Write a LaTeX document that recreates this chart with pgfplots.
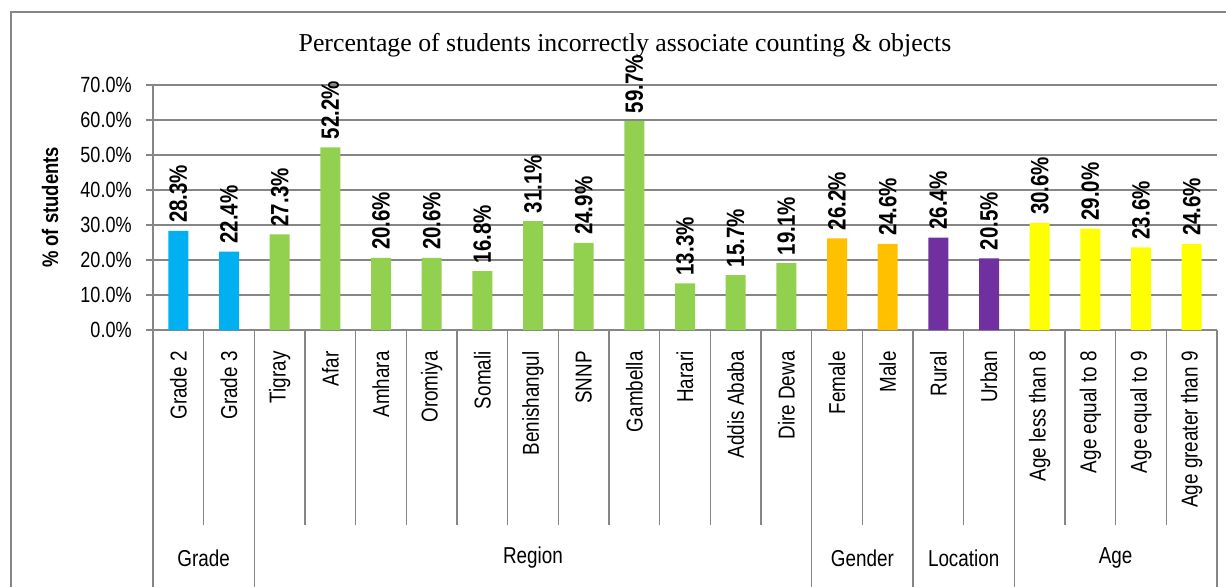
\documentclass[border=0pt]{standalone}
\usepackage{pgfplots}
\pgfplotsset{compat=1.18}
\usepackage{fontspec}
\setmainfont{Liberation Sans}[FakeStretch=0.82]
\newfontfamily\titlefont{Liberation Serif}
\definecolor{cblue}{HTML}{00B0F0}
\definecolor{cgreen}{HTML}{92D050}
\definecolor{corange}{HTML}{FFC000}
\definecolor{cpurple}{HTML}{7030A0}
\definecolor{cyellow}{HTML}{FFFF00}
\definecolor{gridc}{RGB}{134,134,134}
\begin{document}
\begin{tikzpicture}
\path[use as bounding box] (-76.5pt,-128pt) rectangle (536.5pt,165pt);
\draw[gridc, line width=0.6pt] (-71pt,-131pt) -- (-71pt,159pt) -- (540pt,159pt);
\begin{axis}[
  at={(0,0)}, anchor=south west,
  scale only axis, width=532pt, height=122.5pt,
  xmin=-0.5, xmax=20.5, ymin=0, ymax=70,
  axis lines*=left,
  axis line style={gridc, line width=0.7pt},
  ybar, bar width=10pt,
  ytick={0,10,...,70},
  yticklabels={0.0\%,10.0\%,20.0\%,30.0\%,40.0\%,50.0\%,60.0\%,70.0\%},
  ymajorgrids, grid style={gridc, line width=0.6pt},
  tick align=outside, major tick length=3.5pt,
  y tick style={gridc, line width=0.6pt},
  xtick={0,...,20},
  xticklabels={Grade 2,Grade 3,Tigray,Afar,Amhara,Oromiya,Somali,Benishangul,SNNP,Gambella,Harari,Addis Ababa,Dire Dewa,Female,Male,Rural,Urban,Age less than 8,Age equal to 8,Age equal to 9,Age greater than 9},
  x tick style={draw=none},
  xticklabel style={rotate=90, anchor=east, inner sep=0pt, font=\fontsize{11.5}{12}\selectfont},
  xticklabel shift=7pt,
  yticklabel style={inner sep=0pt, font=\fontsize{11}{12}\selectfont},
  yticklabel shift=7pt,
  clip=false,
  nodes near coords={\pgfmathprintnumber[fixed,fixed zerofill,precision=1,assume math mode=true]{\pgfplotspointmeta}\%},
  every node near coord/.append style={rotate=90, anchor=west, inner xsep=4pt, inner ysep=0pt, outer sep=0pt, font=\bfseries\fontsize{12.5}{13}\selectfont, text=black},
]
\addplot[fill=cblue, draw=none, bar shift=0pt] coordinates {(0,28.3) (1,22.4)};
\addplot[fill=cgreen, draw=none, bar shift=0pt] coordinates {(2,27.3) (3,52.2) (4,20.6) (5,20.6) (6,16.8) (7,31.1) (8,24.9) (9,59.7) (10,13.3) (11,15.7) (12,19.1)};
\addplot[fill=corange, draw=none, bar shift=0pt] coordinates {(13,26.2) (14,24.6)};
\addplot[fill=cpurple, draw=none, bar shift=0pt] coordinates {(15,26.4) (16,20.5)};
\addplot[fill=cyellow, draw=none, bar shift=0pt] coordinates {(17,30.6) (18,29.0) (19,23.6) (20,24.6)};
\pgfplotsinvokeforeach{0.5,2.5,3.5,4.5,5.5,6.5,7.5,8.5,9.5,10.5,11.5,13.5,15.5,17.5,18.5,19.5}{
  \draw[gridc, line width=0.6pt] (axis cs:#1,0) -- ++(0pt,-97.5pt);
}
\pgfplotsinvokeforeach{-0.5,1.5,12.5,14.5,16.5,20.5}{
  \draw[gridc, line width=0.6pt] (axis cs:#1,0) -- ++(0pt,-131pt);
}
\node[font=\fontsize{11.5}{12}\selectfont] at ([yshift=-114pt]axis cs:0.5,0) {Grade};
\node[font=\fontsize{11.5}{12}\selectfont] at ([yshift=-114pt]axis cs:7,0) {Region};
\node[font=\fontsize{11.5}{12}\selectfont] at ([yshift=-114pt]axis cs:13.5,0) {Gender};
\node[font=\fontsize{11.5}{12}\selectfont] at ([yshift=-114pt]axis cs:15.5,0) {Location};
\node[font=\fontsize{11.5}{12}\selectfont] at ([yshift=-114pt]axis cs:18.5,0) {Age};
\node[rotate=90, font=\bfseries\fontsize{11.25}{12}\selectfont] at ([xshift=-51.5pt]axis cs:-0.5,35) {\% of students};
\end{axis}
\node[font=\titlefont\fontsize{12.9}{14}\selectfont] at (236pt,142.5pt) {Percentage of students incorrectly associate counting \& objects};
\end{tikzpicture}
\end{document}
